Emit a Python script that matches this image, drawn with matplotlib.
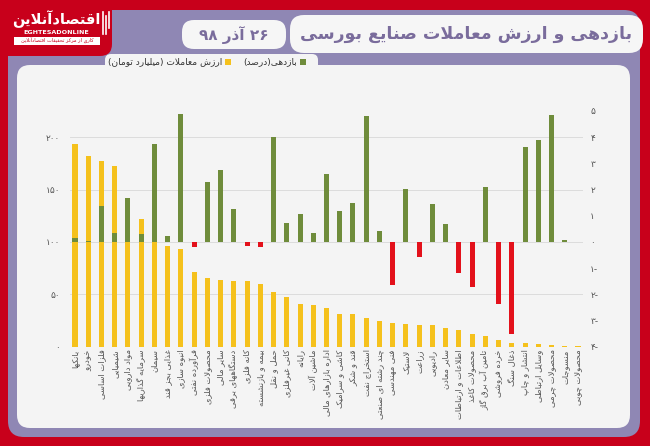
import re
import matplotlib
matplotlib.use("Agg")
import matplotlib.pyplot as plt
from matplotlib.patches import FancyBboxPatch, Rectangle

# matplotlib does not shape arabic script, so do a small persian reshaper by hand
FORMS = {
    'ا': (0xFE8D, 0xFE8E), 'آ': (0xFE81, 0xFE82), 'أ': (0xFE83, 0xFE84),
    'د': (0xFEA9, 0xFEAA), 'ذ': (0xFEAB, 0xFEAC), 'ر': (0xFEAD, 0xFEAE),
    'ز': (0xFEAF, 0xFEB0), 'ژ': (0xFB8A, 0xFB8B), 'و': (0xFEED, 0xFEEE),
    'ب': (0xFE8F, 0xFE90, 0xFE91, 0xFE92), 'ت': (0xFE95, 0xFE96, 0xFE97, 0xFE98),
    'ث': (0xFE99, 0xFE9A, 0xFE9B, 0xFE9C), 'ج': (0xFE9D, 0xFE9E, 0xFE9F, 0xFEA0),
    'ح': (0xFEA1, 0xFEA2, 0xFEA3, 0xFEA4), 'خ': (0xFEA5, 0xFEA6, 0xFEA7, 0xFEA8),
    'س': (0xFEB1, 0xFEB2, 0xFEB3, 0xFEB4), 'ش': (0xFEB5, 0xFEB6, 0xFEB7, 0xFEB8),
    'ص': (0xFEB9, 0xFEBA, 0xFEBB, 0xFEBC), 'ض': (0xFEBD, 0xFEBE, 0xFEBF, 0xFEC0),
    'ط': (0xFEC1, 0xFEC2, 0xFEC3, 0xFEC4), 'ظ': (0xFEC5, 0xFEC6, 0xFEC7, 0xFEC8),
    'ع': (0xFEC9, 0xFECA, 0xFECB, 0xFECC), 'غ': (0xFECD, 0xFECE, 0xFECF, 0xFED0),
    'ف': (0xFED1, 0xFED2, 0xFED3, 0xFED4), 'ق': (0xFED5, 0xFED6, 0xFED7, 0xFED8),
    'ل': (0xFEDD, 0xFEDE, 0xFEDF, 0xFEE0), 'م': (0xFEE1, 0xFEE2, 0xFEE3, 0xFEE4),
    'ن': (0xFEE5, 0xFEE6, 0xFEE7, 0xFEE8), 'ه': (0xFEE9, 0xFEEA, 0xFEEB, 0xFEEC),
    'ی': (0xFBFC, 0xFBFD, 0xFBFE, 0xFBFF), 'ک': (0xFB8E, 0xFB8F, 0xFB90, 0xFB91),
    'گ': (0xFB92, 0xFB93, 0xFB94, 0xFB95), 'پ': (0xFB56, 0xFB57, 0xFB58, 0xFB59),
    'چ': (0xFB7A, 0xFB7B, 0xFB7C, 0xFB7D), 'ئ': (0xFE89, 0xFE8A, 0xFE8B, 0xFE8C),
}
LAM_ALEF = {'ا': (0xFEFB, 0xFEFC), 'آ': (0xFEF5, 0xFEF6), 'أ': (0xFEF7, 0xFEF8)}


def dual(c):
    return c in FORMS and len(FORMS[c]) == 4


def fa(text):
    res = []
    n = len(text)
    i = 0
    while i < n:
        c = text[i]
        if c not in FORMS:
            if c != '\u200c':
                res.append(c)
            i += 1
            continue
        con_prev = i > 0 and dual(text[i - 1])
        if c == 'ل' and i + 1 < n and text[i + 1] in LAM_ALEF:
            iso, fin = LAM_ALEF[text[i + 1]]
            res.append(chr(fin if con_prev else iso))
            i += 2
            continue
        con_next = dual(c) and i + 1 < n and text[i + 1] in FORMS
        f = FORMS[c]
        if con_prev and con_next:
            g = f[3]
        elif con_prev:
            g = f[1]
        elif con_next:
            g = f[2]
        else:
            g = f[0]
        res.append(chr(g))
        i += 1
    s = ''.join(res)[::-1]
    s = re.sub(r'[0-9۰-۹]+', lambda m: m.group(0)[::-1], s)
    return s.translate(str.maketrans('()', ')('))


categories = [
    'بانکها', 'خودرو', 'فلزات اساسی', 'شیمیایی', 'مواد دارویی', 'سرمایه گذاریها',
    'سیمان', 'غذایی بجز قند', 'انبوه سازی', 'فرآورده نفتی', 'محصولات فلزی',
    'سایر مالی', 'دستگاههای برقی', 'کانه فلزی', 'بیمه و بازنشسته', 'حمل و نقل',
    'کانی غیرفلزی', 'رایانه', 'ماشین آلات', 'اداره بازارهای مالی', 'کاشی و سرامیک',
    'قند و شکر', 'استخراج نفت', 'چند رشته ای صنعتی', 'فنی مهندسی', 'لاستیک',
    'زراعت', 'رادیویی', 'سایر معادن', 'اطلاعات و ارتباطات', 'محصولات کاغذ',
    'تامین آب برق گاز', 'خرده فروشی', 'ذغال سنگ', 'انتشار و چاپ', 'وسایل ارتباطی',
    'محصولات چرمی', 'منسوجات', 'محصولات چوبی',
]
volume = [193.7, 182.5, 176.8, 172.6, 135, 122, 110, 96.5, 93.3, 71, 65.5,
          63.4, 62.7, 62.4, 59.8, 52.5, 47.7, 40.7, 39.8, 36.6, 30.9,
          30.9, 27.6, 24.8, 22.9, 21.6, 20.6, 20.3, 18.0, 15.9, 11.8,
          10.1, 6.3, 3.7, 3.1, 2.2, 1.5, 0.4, 0.1]
returns = [0.15, 0.03, 1.37, 0.35, 1.66, 0.32, 3.74, 0.24, 4.9, -0.2, 2.3,
           2.74, 1.27, -0.17, -0.2, 4.02, 0.73, 1.05, 0.35, 2.6, 1.17,
           1.48, 4.79, 0.42, -1.64, 2.01, -0.58, 1.46, 0.69, -1.17, -1.73,
           2.08, -2.37, -3.52, 3.61, 3.9, 4.86, 0.09, 0.0]
left_ticks = [0, 50, 100, 150, 200]
left_labels = ['۰', '۵۰', '۱۰۰', '۱۵۰', '۲۰۰']
right_ticks = [-4, -3, -2, -1, 0, 1, 2, 3, 4, 5]
right_labels = ['۴-', '۳-', '۲-', '۱-', '۰', '۱', '۲', '۳', '۴', '۵']

title = 'بازدهی و ارزش معاملات صنایع بورسی'
date = '۲۶ آذر ۹۸'
leg_ret = 'بازدهی(درصد)'
leg_vol = 'ارزش معاملات (میلیارد تومان)'

RED = '#c8001b'
PURPLE = '#8f87b4'
PANEL = '#f4f4f4'
TXT = '#7a6c9c'
YELLOW = '#f5c11c'
GREEN = '#6f8c3b'
BARRED = '#e3111b'

plt.rcParams['font.family'] = ['DejaVu Sans']

fig = plt.figure(figsize=(6.5, 4.46), dpi=100)
fig.patch.set_facecolor(RED)

# background drawn in pixel coordinates
bg = fig.add_axes([0, 0, 1, 1], zorder=0)
bg.set_xlim(0, 650)
bg.set_ylim(446, 0)
bg.axis('off')


def rbox(x0, y0, x1, y1, r, color, z=1):
    p = FancyBboxPatch((x0 + r, y0 + r), x1 - x0 - 2 * r, y1 - y0 - 2 * r,
                       boxstyle='round,pad=%g' % r, fc=color, ec='none', zorder=z)
    bg.add_patch(p)


rbox(8, 10, 640, 437, 16, PURPLE, 1)
rbox(-30, -30, 112, 56, 12, RED, 2)
rbox(17, 65, 630, 428, 13, PANEL, 3)
rbox(290, 15, 643, 53, 14, '#f6f6f6', 4)
rbox(182, 20, 286, 49, 12, '#f6f6f6', 4)
rbox(105, 54, 318, 72, 6, PANEL, 3)

bg.text(466, 34, fa(title), fontsize=12.5, fontweight='bold', color=TXT,
        ha='center', va='center', zorder=5)
bg.text(234, 35, fa(date), fontsize=11, fontweight='bold', color=TXT,
        ha='center', va='center', zorder=5)

# logo
bg.text(56, 19, fa('اقتصادآنلاین'), fontsize=10.5, fontweight='bold', color='white',
        ha='center', va='center', zorder=5)
bg.text(56, 32, 'EGHTESADONLINE', fontsize=4.6, fontweight='bold', color='white',
        ha='center', va='center', zorder=5)
bg.add_patch(Rectangle((14, 37), 86, 8, fc='white', ec='none', zorder=5))
bg.text(57, 41, fa('کاری از مرکز تحقیقات اقتصادآنلاین'), fontsize=3.6, color=RED,
        ha='center', va='center', zorder=6)
for xx, y0, y1 in [(103, 12, 34), (106, 16, 34), (109, 12, 28)]:
    bg.plot([xx, xx], [y0, y1], color='white', lw=1.2, zorder=5)

# legend
bg.add_patch(Rectangle((300, 59), 6, 6, fc=GREEN, ec='none', zorder=5))
bg.text(297, 62, fa(leg_ret), fontsize=6.5, color='#333333', ha='right', va='center', zorder=5)
bg.add_patch(Rectangle((225, 59), 6, 6, fc=YELLOW, ec='none', zorder=5))
bg.text(222, 62, fa(leg_vol), fontsize=6.5, color='#333333', ha='right', va='center', zorder=5)

# chart
ax = fig.add_axes([69.7 / 650, (446 - 346.6) / 446, 513.6 / 650, (346.6 - 111) / 446], zorder=2)
ax.patch.set_alpha(0)
x = list(range(len(categories)))
for g in [50, 100, 150, 200]:
    ax.axhline(g, color='#dcdcdc', lw=0.7, zorder=0)
ax.bar(x, volume, width=0.38, color=YELLOW, zorder=2)
ax.set_xlim(-0.4, len(categories) - 0.6)
ax.set_ylim(0, 225)
ax.set_yticks(left_ticks)
ax.set_yticklabels(left_labels, fontsize=6.5, color='#555555')
ax.set_xticks(x)
ax.set_xticklabels([fa(c) for c in categories], rotation=90, fontsize=6,
                   color='#555555', va='top', ha='center')
ax.tick_params(axis='y', length=0, pad=7)
ax.tick_params(axis='x', length=0, pad=2)
for s in ax.spines.values():
    s.set_visible(False)

ax2 = ax.twinx()
ax2.patch.set_alpha(0)
ax2.bar(x, returns, width=0.38, color=[GREEN if r >= 0 else BARRED for r in returns], zorder=3)
ax2.set_ylim(-4, 5)
ax2.set_yticks(right_ticks)
ax2.set_yticklabels(right_labels, fontsize=6.5, color='#555555')
ax2.tick_params(axis='y', length=0, pad=5)
for s in ax2.spines.values():
    s.set_visible(False)

fig.savefig('out.png', dpi=100, facecolor=fig.get_facecolor())
